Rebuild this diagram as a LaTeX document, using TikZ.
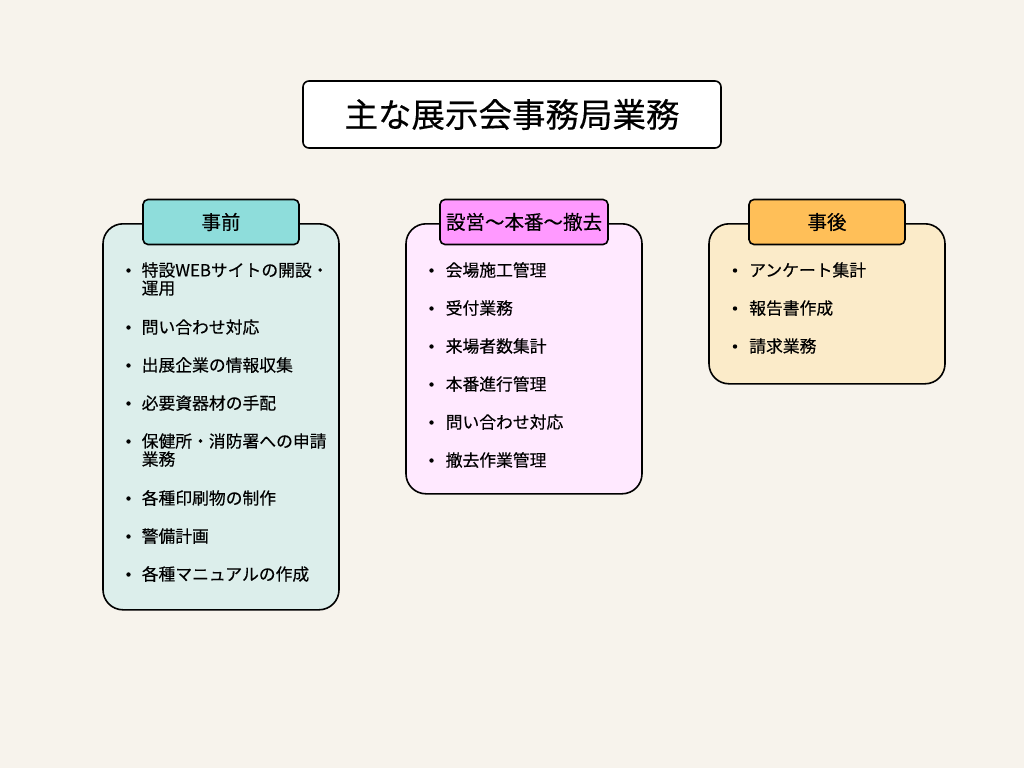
\documentclass[tikz,border=0pt]{standalone}
\usepackage{fontspec}
\setmainfont{Noto Sans CJK JP}[UprightFeatures={FakeBold=0.3}]
\usetikzlibrary{positioning}

\definecolor{bgcream}{HTML}{F7F3EC}
\definecolor{maehead}{HTML}{8EDDDB}
\definecolor{maefill}{HTML}{DCEEEB}
\definecolor{tojitsuhead}{HTML}{FF99FF}
\definecolor{tojitsufill}{HTML}{FFE9FF}
\definecolor{atohead}{HTML}{FFBF58}
\definecolor{atofill}{HTML}{FBEBC9}

\tikzset{
  panel/.style={draw=black, line width=1.6pt, rounded corners=20pt,
    minimum width=236pt, inner sep=0pt, anchor=north},
  header/.style={draw=black, line width=1.6pt, rounded corners=5pt,
    minimum height=45pt, inner sep=0pt,
    font=\fontsize{19.5}{22}\selectfont},
  itemtext/.style={anchor=base west, align=left, inner sep=0pt,
    font=\fontsize{16.8}{18}\selectfont},
  bulletdot/.style={circle, fill=black, inner sep=0pt, minimum size=4.4pt},
}

\begin{document}
\begin{tikzpicture}[x=1pt,y=-1pt]
  \fill[bgcream] (0,0) rectangle (1024,768);
  \useasboundingbox (0,0) rectangle (1024,768);

  % title
  \node[draw=black, fill=white, line width=1.6pt, rounded corners=6pt,
    minimum width=418pt, minimum height=67pt, inner sep=0pt,
    font=\fontsize{33.5}{36}\selectfont] (title) at (512,114.5) {主な展示会事務局業務};

  % before
  \node[panel, fill=maefill, minimum height=386pt] (maepanel) at (221,223) {};
  \node[header, fill=maehead, minimum width=156pt] (maetitle) at (221,222) {事前};
  \foreach \y/\n/\txt [count=\i] in {270/2/{特設WEBサイトの開設・\\運用}, 327/1/問い合わせ対応,
      365/1/出展企業の情報収集, 403/1/必要資器材の手配, 441/2/{保健所・消防署への申請\\業務},
      498/1/各種印刷物の制作, 536/1/警備計画, 574/1/各種マニュアルの作成} {
    \node[bulletdot] (maedot\i) at (128.5,\y+0.5) {};
    \node[itemtext] (maeitem\i) at (141.5,\y+6.4+18*\n-18) {\txt};
  }

  % event days
  \node[panel, fill=tojitsufill, minimum height=270pt] (tojitsupanel) at (524,223) {};
  \node[header, fill=tojitsuhead, minimum width=168pt] (tojitsutitle) at (524,222) {設営〜本番〜撤去};
  \foreach \y/\txt [count=\i] in {270/会場施工管理, 308/受付業務, 346/来場者数集計,
      384/本番進行管理, 422/問い合わせ対応, 460/撤去作業管理} {
    \node[bulletdot] (tojitsudot\i) at (431.5,\y+0.5) {};
    \node[itemtext] (tojitsuitem\i) at (445.5,\y+6.4) {\txt};
  }

  % after
  \node[panel, fill=atofill, minimum height=160pt] (atopanel) at (827,223) {};
  \node[header, fill=atohead, minimum width=156pt] (atotitle) at (827,222) {事後};
  \foreach \y/\txt [count=\i] in {270/アンケート集計, 308/報告書作成, 346/請求業務} {
    \node[bulletdot] (atodot\i) at (735,\y+0.5) {};
    \node[itemtext] (atoitem\i) at (749,\y+6.4) {\txt};
  }
\end{tikzpicture}
\end{document}
